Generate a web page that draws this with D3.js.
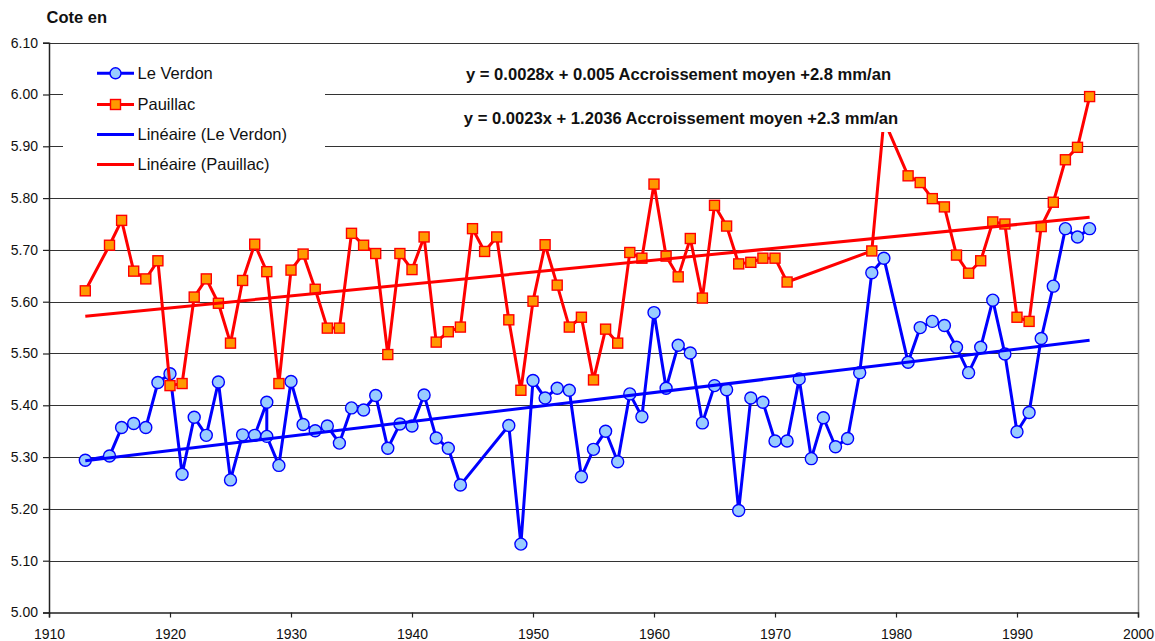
<!DOCTYPE html>
<html>
<head>
<meta charset="utf-8">
<script src="https://cdn.jsdelivr.net/npm/d3@7"></script>
<style>
  html, body { margin: 0; padding: 0; background: #fff; }
  svg { display: block; font-family: "Liberation Sans", Arial, sans-serif; }
</style>
</head>
<body>
<svg id="chart" width="1155" height="641"></svg>
<script>
// Water level ("cote") series, one point per year
const verdonYears = [1913,1915,1916,1917,1918,1919,1920,1921,1922,1923,1924,1925,1926,1927,1928,1928,1929,1930,1931,1932,1933,1934,1935,1936,1937,1938,1939,1940,1941,1942,1943,1944,1948,1949,1950,1951,1952,1953,1954,1955,1956,1957,1958,1959,1960,1961,1962,1963,1964,1965,1966,1967,1968,1969,1970,1971,1972,1973,1974,1975,1976,1977,1978,1979,1981,1982,1983,1984,1985,1986,1987,1988,1989,1990,1991,1992,1993,1994,1995,1996];
const verdonLevels = [5.294,5.302,5.357,5.365,5.357,5.444,5.461,5.267,5.377,5.342,5.445,5.256,5.343,5.342,5.406,5.340,5.284,5.446,5.363,5.351,5.360,5.327,5.395,5.391,5.419,5.317,5.364,5.360,5.420,5.337,5.317,5.246,5.361,5.132,5.448,5.414,5.433,5.429,5.262,5.315,5.350,5.291,5.422,5.378,5.579,5.433,5.516,5.501,5.366,5.438,5.430,5.197,5.414,5.406,5.331,5.331,5.451,5.297,5.376,5.320,5.336,5.463,5.656,5.684,5.483,5.550,5.562,5.554,5.512,5.463,5.512,5.603,5.499,5.349,5.386,5.529,5.630,5.741,5.725,5.741];

const pauillacYears = [1913,1915,1916,1917,1918,1919,1920,1921,1922,1923,1924,1925,1926,1927,1928,1929,1930,1931,1932,1933,1934,1935,1936,1937,1938,1939,1940,1941,1942,1943,1944,1945,1946,1947,1948,1949,1950,1951,1952,1953,1954,1955,1956,1957,1958,1959,1960,1961,1962,1963,1964,1965,1966,1967,1968,1969,1970,1971,1978,1979,1981,1982,1983,1984,1985,1986,1987,1988,1989,1990,1991,1992,1993,1994,1995,1996];
const pauillacLevels = [5.621,5.709,5.757,5.659,5.644,5.679,5.438,5.442,5.609,5.644,5.597,5.520,5.641,5.711,5.658,5.442,5.661,5.692,5.624,5.549,5.549,5.732,5.709,5.693,5.498,5.693,5.662,5.725,5.522,5.542,5.551,5.741,5.697,5.725,5.565,5.429,5.601,5.710,5.632,5.551,5.570,5.449,5.547,5.520,5.695,5.684,5.827,5.688,5.648,5.722,5.607,5.786,5.746,5.673,5.676,5.684,5.684,5.638,5.698,5.951,5.843,5.830,5.799,5.783,5.690,5.655,5.679,5.754,5.750,5.570,5.562,5.745,5.792,5.874,5.898,5.996];

// Linear trends: slope per year and level at the first year
const trendNames = ["Le Verdon", "Pauillac"];
const trendSlopes = [0.0028, 0.0023];
const trendStartLevels = [5.293, 5.572];
const trendSpan = [1913, 1996];
const trendLabels = [
  "y = 0.0028x + 0.005 Accroissement moyen +2.8 mm/an",
  "y = 0.0023x + 1.2036 Accroissement moyen +2.3 mm/an"
];

const xTicks = [1910,1920,1930,1940,1950,1960,1970,1980,1990,2000];
const yTicks = [5.00,5.10,5.20,5.30,5.40,5.50,5.60,5.70,5.80,5.90,6.00,6.10];

const legendLabels = ["Le Verdon", "Pauillac", "Linéaire (Le Verdon)", "Linéaire (Pauillac)"];

const BLUE = "#0000ff", LIGHTBLUE = "#99ccff", RED = "#ff0000", ORANGE = "#ff9900";

const svg = d3.select("#chart");
const plotLeft = 49, plotRight = 1138, plotTop = 42.7, plotBottom = 612.5;

const x = d3.scaleLinear().domain([1910, 2000]).range([plotLeft, plotRight]);
const y = d3.scaleLinear().domain([5.00, 6.10]).range([plotBottom, plotTop]);

// Horizontal gridlines
svg.append("g")
  .selectAll("line")
  .data(yTicks.filter(d => d > 5.0))
  .join("line")
  .attr("x1", plotLeft).attr("x2", plotRight)
  .attr("y1", d => Math.round(y(d)) + 0.5).attr("y2", d => Math.round(y(d)) + 0.5)
  .attr("stroke", "#333").attr("stroke-width", 1);

// Right plot border
svg.append("line")
  .attr("x1", plotRight + 0.5).attr("x2", plotRight + 0.5)
  .attr("y1", plotTop).attr("y2", plotBottom)
  .attr("stroke", "#888").attr("stroke-width", 1.5);

// Axes
const yAxis = d3.axisLeft(y).tickValues(yTicks).tickFormat(d3.format(".2f")).tickSize(6).tickPadding(5);
const xAxis = d3.axisBottom(x).tickValues(xTicks).tickFormat(d3.format("d")).tickSize(5).tickPadding(12);

const gy = svg.append("g").attr("transform", `translate(${plotLeft},0)`).call(yAxis);
const gx = svg.append("g").attr("transform", `translate(0,${plotBottom})`).call(xAxis);
[gy, gx].forEach(g => {
  g.select(".domain").attr("stroke", "#222").attr("stroke-width", 1.5);
  g.selectAll(".tick line").attr("stroke", "#222").attr("stroke-width", 1.2);
  g.selectAll(".tick text").attr("font-size", "14px").attr("fill", "#111")
    .attr("font-family", "'Liberation Sans', Arial, sans-serif");
});

// Axis title
svg.append("text")
  .attr("x", 46.5).attr("y", 22.5)
  .attr("font-size", "16.5px").attr("font-weight", "bold").attr("fill", "#111")
  .text("Cote en");

// Series
const verdon = verdonYears.map((yr, i) => ({ year: yr, level: verdonLevels[i] }));
const pauillac = pauillacYears.map((yr, i) => ({ year: yr, level: pauillacLevels[i] }));
const line = d3.line().x(d => x(d.year)).y(d => y(d.level));

const gVerdon = svg.append("g");
gVerdon.append("path").datum(verdon).attr("d", line)
  .attr("fill", "none").attr("stroke", BLUE).attr("stroke-width", 3).attr("stroke-linejoin", "round");
gVerdon.selectAll("circle").data(verdon).join("circle")
  .attr("cx", d => x(d.year)).attr("cy", d => y(d.level)).attr("r", 6)
  .attr("fill", LIGHTBLUE).attr("stroke", BLUE).attr("stroke-width", 1.4);

const SQ = 10;
const gPauillac = svg.append("g");
gPauillac.append("path").datum(pauillac).attr("d", line)
  .attr("fill", "none").attr("stroke", RED).attr("stroke-width", 3).attr("stroke-linejoin", "round");
gPauillac.selectAll("rect").data(pauillac).join("rect")
  .attr("x", d => x(d.year) - SQ / 2).attr("y", d => y(d.level) - SQ / 2)
  .attr("width", SQ).attr("height", SQ)
  .attr("fill", ORANGE).attr("stroke", RED).attr("stroke-width", 1.4);

// Trend lines
const trendColors = [BLUE, RED];
trendNames.forEach((name, i) => {
  const pts = trendSpan.map(yr => ({ year: yr, level: trendStartLevels[i] + trendSlopes[i] * (yr - trendSpan[0]) }));
  svg.append("path").datum(pts).attr("d", line)
    .attr("fill", "none").attr("stroke", trendColors[i]).attr("stroke-width", 3);
});

// Trend equation labels on white boxes
const labelPos = [[678.5, 80], [681, 123.5]];
trendLabels.forEach((t, i) => {
  const g = svg.append("g");
  const bg = g.append("rect").attr("fill", "#fff");
  const txt = g.append("text")
    .attr("x", labelPos[i][0]).attr("y", labelPos[i][1])
    .attr("text-anchor", "middle")
    .attr("font-size", "16.6px").attr("font-weight", "bold").attr("fill", "#111")
    .text(t);
  const bb = txt.node().getBBox();
  bg.attr("x", bb.x - 4).attr("width", bb.width + 8)
    .attr("y", labelPos[i][1] - 16).attr("height", 24.5);
});

// Legend
const lg = svg.append("g");
lg.append("rect").attr("x", 63).attr("y", 50).attr("width", 262).attr("height", 133).attr("fill", "#fff");
const rowY = [73.3, 104.5, 134.5, 164.5];
legendLabels.forEach((lab, i) => {
  const col = i % 2 === 0 ? BLUE : RED;
  const ry = rowY[i];
  lg.append("line").attr("x1", 97).attr("x2", 134).attr("y1", ry).attr("y2", ry)
    .attr("stroke", col).attr("stroke-width", 3);
  if (i === 0) {
    lg.append("circle").attr("cx", 115.5).attr("cy", ry).attr("r", 5.5)
      .attr("fill", LIGHTBLUE).attr("stroke", BLUE).attr("stroke-width", 1.4);
  } else if (i === 1) {
    lg.append("rect").attr("x", 115.5 - SQ / 2).attr("y", ry - SQ / 2).attr("width", SQ).attr("height", SQ)
      .attr("fill", ORANGE).attr("stroke", RED).attr("stroke-width", 1.4);
  }
  lg.append("text").attr("x", 137.5).attr("y", ry).attr("dy", "0.36em")
    .attr("font-size", "16.5px").attr("fill", "#111").text(lab);
});
</script>
</body>
</html>
